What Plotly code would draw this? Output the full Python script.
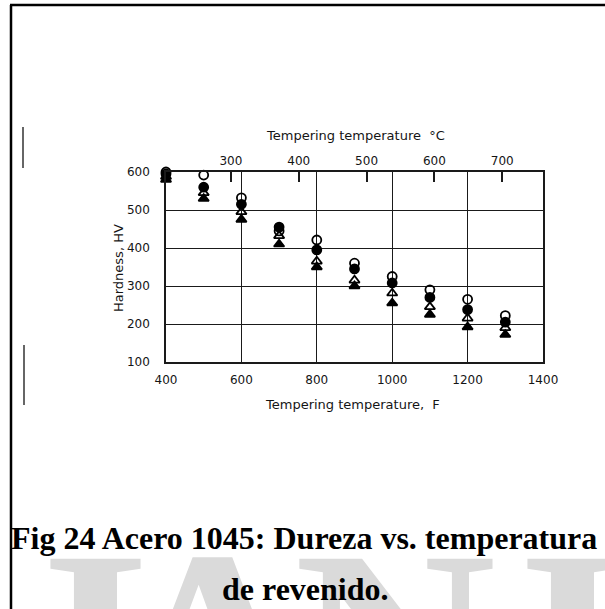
import plotly.graph_objects as go

# Tempering temperature (°F) and hardness (HV) for four test series
temp_f = [400, 500, 600, 700, 800, 900, 1000, 1100, 1200, 1300]
hv_open_circle = [600, 592, 532, 445, 421, 360, 325, 290, 265, 222]
hv_filled_circle = [595, 560, 515, 455, 395, 345, 308, 270, 238, 205]
hv_open_triangle = [588, 545, 495, 432, 365, 315, 281, 245, 215, 190]
hv_filled_triangle = [580, 530, 475, 410, 350, 300, 255, 225, 192, 172]

x_ticks_f = [400, 600, 800, 1000, 1200, 1400]
y_ticks_hv = [100, 200, 300, 400, 500, 600]
top_ticks_c = [300, 400, 500, 600, 700]

W, H = 605, 609
L, R, T, B = 166, 543, 172, 362  # plot area in pixels


def px(x):
    return (x - L) / (R - L)


def py(y):
    return (B - y) / (B - T)


def f_to_c(f):
    return (f - 32) * 5 / 9


FONT = "DejaVu Sans"
INK = "#151515"

fig = go.Figure()

series = [
    (hv_open_circle, "circle-open"),
    (hv_filled_circle, "circle"),
    (hv_open_triangle, "triangle-up-open"),
    (hv_filled_triangle, "triangle-up"),
]
for vals, sym in series:
    fig.add_trace(go.Scatter(
        x=temp_f, y=vals, mode="markers",
        marker=dict(symbol=sym, size=9, color="black",
                    line=dict(color="black", width=1.8)),
        showlegend=False, cliponaxis=False,
    ))

# carrier trace for the Celsius axis on top
fig.add_trace(go.Scatter(
    x=[f_to_c(temp_f[0])], y=[hv_open_circle[0]], xaxis="x2",
    mode="markers", marker=dict(opacity=0), showlegend=False,
    hoverinfo="skip",
))

fig.update_layout(
    width=W, height=H,
    margin=dict(l=L, r=W - R, t=T, b=H - B),
    paper_bgcolor="white", plot_bgcolor="white",
    font=dict(family=FONT, size=12, color=INK),
    xaxis=dict(
        range=[400, 1400], tickvals=x_ticks_f,
        ticktext=[str(v) for v in x_ticks_f],
        showgrid=True, gridcolor="#1a1a1a", gridwidth=1.4,
        showline=True, linecolor="#1a1a1a", linewidth=1.6, mirror=True,
        ticks="", ticklabelstandoff=6, zeroline=False,
        tickfont=dict(size=12, color=INK),
    ),
    yaxis=dict(
        range=[100, 600], tickvals=y_ticks_hv,
        ticktext=[str(v) for v in y_ticks_hv],
        showgrid=True, gridcolor="#1a1a1a", gridwidth=1.4,
        showline=True, linecolor="#1a1a1a", linewidth=1.6, mirror=True,
        ticks="", ticklabelstandoff=12, zeroline=False,
        tickfont=dict(size=12, color=INK),
    ),
    xaxis2=dict(
        overlaying="x", side="top", anchor="y",
        range=[f_to_c(400), f_to_c(1400)], tickvals=top_ticks_c,
        ticktext=[str(v) for v in top_ticks_c],
        ticks="inside", ticklen=10, tickwidth=1.5, tickcolor="#1a1a1a",
        showgrid=False, showline=False, zeroline=False,
        ticklabelstandoff=4, tickfont=dict(size=12, color=INK),
    ),
)

ann = []
# large pale watermark letters along the bottom edge
for letter, xc in [("I", 95), ("A", 212), ("N", 395), ("I", 572)]:
    ann.append(dict(x=px(xc), y=py(490), text=f"<b>{letter}</b>",
                    yanchor="top",
                    font=dict(family="Liberation Serif", size=280,
                              color="#dadada")))
ann += [
    dict(x=px(355), y=py(135), text="Tempering temperature  °C",
         font=dict(size=13, color=INK)),
    dict(x=px(352), y=py(404), text="Tempering temperature,  F",
         font=dict(size=13, color=INK)),
    dict(x=px(118), y=py(268), text="Hardness, HV", textangle=-90,
         font=dict(size=13, color=INK)),
    dict(x=px(304), y=py(538),
         text="<b>Fig 24 Acero 1045: Dureza vs. temperatura</b>",
         font=dict(family="Liberation Serif", size=32, color="black")),
    dict(x=px(305), y=py(589), text="<b>de revenido.</b>",
         font=dict(family="Liberation Serif", size=32, color="black")),
]
for a in ann:
    a.setdefault("xref", "paper")
    a.setdefault("yref", "paper")
    a.setdefault("xanchor", "center")
    a.setdefault("yanchor", "middle")
    a.setdefault("showarrow", False)
    fig.add_annotation(**a)

# page frame: heavy top rule and left rule, plus two short marks
shapes = [
    dict(type="line", x0=px(10), x1=px(605), y0=py(5), y1=py(5),
         line=dict(color="black", width=2.5)),
    dict(type="line", x0=px(11), x1=px(11), y0=py(5), y1=py(609),
         line=dict(color="black", width=2.5)),
    dict(type="line", x0=px(23), x1=px(23), y0=py(127), y1=py(168),
         line=dict(color="#333", width=1.5)),
    dict(type="line", x0=px(24), x1=px(24), y0=py(345), y1=py(405),
         line=dict(color="#333", width=1.5)),
]
for s in shapes:
    s["xref"] = "paper"
    s["yref"] = "paper"
    s["layer"] = "below"
    fig.add_shape(**s)

fig.write_html("out.html")
